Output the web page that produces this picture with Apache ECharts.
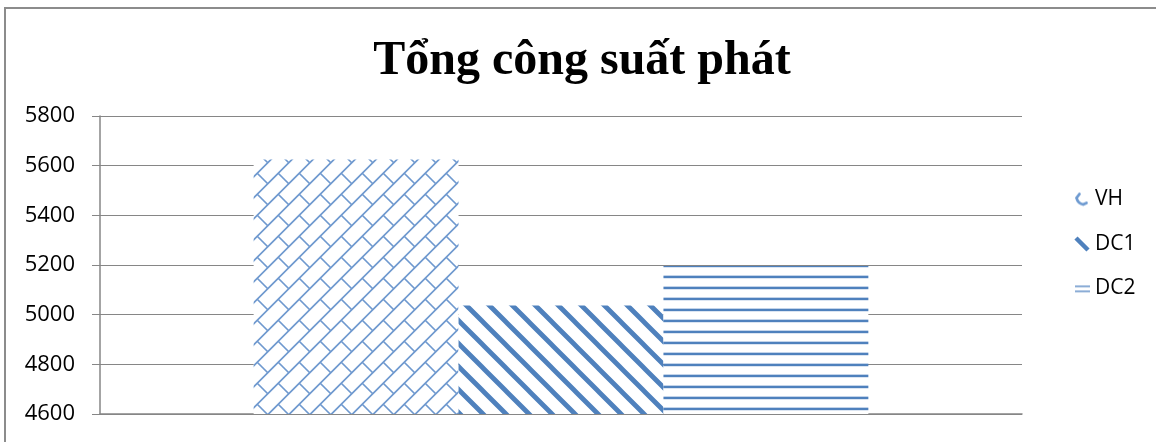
<!DOCTYPE html>
<html><head><meta charset="utf-8">
<script src="https://cdn.jsdelivr.net/npm/echarts@6/dist/echarts.min.js"></script>
<style>html,body{margin:0;padding:0;background:#fff}#c{width:1156px;height:442px}</style>
</head><body><div id="c"></div>
<script>
const titleText = 'Tổng công suất phát';
const categories = [''];
const seriesNames = ['VH', 'DC1', 'DC2'];
const vhValues = [5625];
const dc1Values = [5037];
const dc2Values = [5196];
const yTicks = [4600, 4800, 5000, 5200, 5400, 5600, 5800];

const BLUE = '#4F81BD';
function mk(w, h, draw, bg) {
  const c = document.createElement('canvas'); c.width = w; c.height = h;
  const g = c.getContext('2d');
  if (bg) { g.fillStyle = bg; g.fillRect(0, 0, w, h); }
  draw(g, w, h); return c;
}

// VH: diagonal brick (lines x+y = 10.5 mod 21, staggered "\" connectors)
const vhTile = mk(21, 21, (g, n) => {
  g.strokeStyle = '#6f99cf'; g.lineWidth = 1.7;
  g.beginPath();
  g.moveTo(-3, 13.5); g.lineTo(13.5, -3);
  g.moveTo(7.5, 24); g.lineTo(24, 7.5);
  g.moveTo(5.25, 5.25); g.lineTo(15.75, 15.75);
  g.stroke();
}, '#fff');
// DC1: "\" stripes
const dc1Tile = mk(23, 23, (g, n) => {
  g.strokeStyle = BLUE; g.lineWidth = 4.8;
  g.beginPath();
  for (const k of [-n, 0, n]) { g.moveTo(k - 2, -2); g.lineTo(k + n + 2, n + 2); }
  g.stroke();
}, '#fff');
// DC2: horizontal stripes
const dc2Tile = mk(8, 11, (g) => {
  g.fillStyle = '#c3d4ea'; g.fillRect(0, 0, 8, 1);
  g.fillStyle = BLUE; g.fillRect(0, 1, 8, 2);
  g.fillStyle = '#dbe5f2'; g.fillRect(0, 3, 8, 1);
}, '#fff');

// legend icons
const iconVH = mk(16, 16, (g) => { g.strokeStyle = '#6f9bd1'; g.lineWidth = 2.8; g.lineCap = 'round'; g.beginPath(); g.moveTo(5.5, 2.5); g.lineTo(2.5, 6.5); g.quadraticCurveTo(4, 12, 9, 13); g.lineTo(12.5, 11.5); g.stroke(); });
const iconDC1 = mk(16, 16, (g) => { g.strokeStyle = BLUE; g.lineWidth = 4.5; g.beginPath(); g.moveTo(2, 2); g.lineTo(14, 14); g.stroke(); });
const iconDC2 = mk(16, 16, (g) => { g.fillStyle = '#6f98cc'; g.fillRect(1, 5, 15, 1.6); g.fillRect(1, 10, 15, 1.6); });

const chart = echarts.init(document.getElementById('c'));
const mkSeries = (name, data, tile) => ({
  name, type: 'bar', data, barGap: '0%', barCategoryGap: '33.33%',
  itemStyle: { color: { image: tile, repeat: 'repeat' } }, emphasis: { disabled: true }, animation: false
});
chart.setOption({
  animation: false,
  graphic: [
    { type: 'polyline', shape: { points: [[5, 460], [5, 8], [1170, 8]] }, style: { stroke: '#8c8c8c', lineWidth: 2, fill: null } },
    { type: 'text', x: 582, y: 38, style: { text: titleText, font: 'bold 48px "Liberation Serif"', fill: '#000', textAlign: 'center' } }
  ],
  legend: {
    orient: 'vertical', left: 1069, top: 184, itemWidth: 16, itemHeight: 16, itemGap: 23.5,
    textStyle: { fontFamily: 'Open Sans', fontSize: 21, color: '#000' },
    data: [
      { name: 'VH', icon: 'image://' + iconVH.toDataURL() },
      { name: 'DC1', icon: 'image://' + iconDC1.toDataURL() },
      { name: 'DC2', icon: 'image://' + iconDC2.toDataURL() }
    ]
  },
  grid: { left: 100, right: 134, top: 116, bottom: 28 },
  xAxis: { type: 'category', data: categories, axisLabel: { show: false }, axisTick: { show: false }, axisLine: { lineStyle: { color: '#868686', width: 1.5 } } },
  yAxis: {
    type: 'value', min: yTicks[0], max: yTicks[yTicks.length - 1], interval: 200,
    axisLine: { show: true, lineStyle: { color: '#868686', width: 1.5 } },
    axisTick: { show: true, length: 8, lineStyle: { color: '#868686' } },
    splitLine: { lineStyle: { color: '#868686', width: 1 } },
    axisLabel: { fontFamily: 'Open Sans', fontSize: 22, color: '#000', margin: 25, formatter: v => String(v) }
  },
  series: [mkSeries(seriesNames[0], vhValues, vhTile), mkSeries(seriesNames[1], dc1Values, dc1Tile), mkSeries(seriesNames[2], dc2Values, dc2Tile)]
});
</script></body></html>
